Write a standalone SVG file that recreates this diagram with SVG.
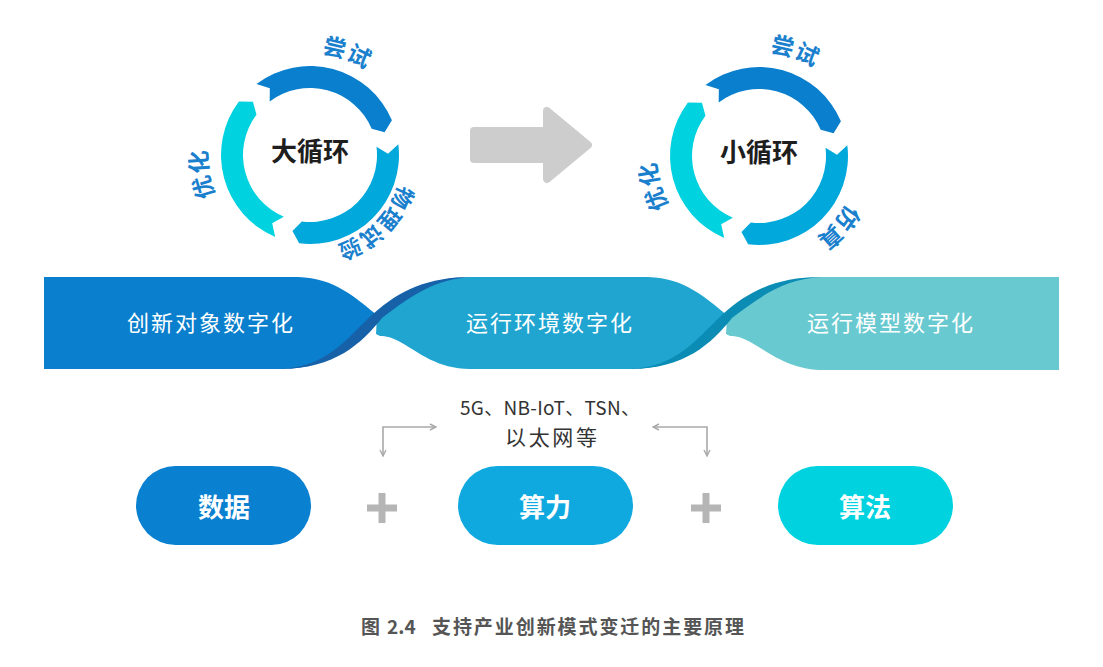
<svg xmlns="http://www.w3.org/2000/svg" width="1103" height="667" viewBox="0 0 1103 667">
<style>
text{font-family:"Noto Sans CJK SC","Noto Sans",sans-serif}
.ctr{font-size:26px;font-weight:700;fill:#1e1e1e;text-anchor:middle}
.lbl{font-size:23px;font-weight:700;fill:#1a80cd;letter-spacing:1px}
.band{font-size:22px;fill:#ffffff;text-anchor:middle}
.pill{font-size:26px;font-weight:700;fill:#ffffff;text-anchor:middle}
.a1{fill:#0a7fcd}.a2{fill:#00a8dc}.a3{fill:#00d2df}
.conn{fill:none;stroke:#a9a9a9;stroke-width:1.6}
.plus{stroke:#b5b5b5;stroke-width:7}
.cap{font-size:19px;font-weight:700;fill:#555555}
</style>
<defs>
<marker id="ah" viewBox="0 0 8 8" refX="7" refY="4" markerWidth="8" markerHeight="8" markerUnits="userSpaceOnUse" orient="auto-start-reverse">
<path d="M1,1 L7,4 L1,7" fill="none" stroke="#a9a9a9" stroke-width="1.4"/>
</marker>
<g id="ring">
<path class="a1" d="M256.44,83.92 A89,89 0 0 1 391.92,120.23 L384.59,132.19 L371.67,128.82 A67,67 0 0 0 269.68,101.49 L269.83,88.14 Z"/>
<path class="a2" d="M398.33,144.15 A89,89 0 0 1 299.15,243.33 L292.45,231.00 L301.83,221.50 A67,67 0 0 0 376.50,146.83 L387.99,153.64 Z"/>
<path class="a3" d="M275.23,236.92 A89,89 0 0 1 238.92,101.44 L252.95,101.80 L256.49,114.68 A67,67 0 0 0 283.82,216.67 L272.19,223.22 Z"/>
</g>
<path id="pL1" d="M275.11,250.85 A102,102 0 1 1 344.89,59.15 A102,102 0 1 1 275.11,250.85"/>
<path id="pL2" d="M411.44,137.11 A103,103 0 1 1 208.56,172.89 A103,103 0 1 1 411.44,137.11"/>
<path id="pL3" d="M244.70,87.38 A94,94 0 1 1 375.30,222.62 A94,94 0 1 1 244.70,87.38"/>
<path id="pR1" d="M725.14,254.33 A104,104 0 1 1 792.86,57.67 A104,104 0 1 1 725.14,254.33"/>
<path id="pR2" d="M858.01,127.61 A103,103 0 1 1 659.99,184.39 A103,103 0 1 1 858.01,127.61"/>
<path id="pR3" d="M684.69,89.09 A100,100 0 1 1 833.31,222.91 A100,100 0 1 1 684.69,89.09"/>
</defs>
<rect width="1103" height="667" fill="#ffffff"/>

<g id="big-cycle">
<use href="#ring"/>
<text class="ctr" x="310" y="161">大循环</text>
<text class="lbl"><textPath href="#pL1" startOffset="50%" text-anchor="middle">尝试</textPath></text>
<text class="lbl"><textPath href="#pL2" startOffset="50%" text-anchor="middle">优化</textPath></text>
<text class="lbl" style="font-size:22px"><textPath href="#pL3" startOffset="50%" text-anchor="middle">物理试验</textPath></text>
</g>

<g id="small-cycle">
<use href="#ring" transform="translate(449,1)"/>
<text class="ctr" x="759" y="162">小循环</text>
<text class="lbl"><textPath href="#pR1" startOffset="50%" text-anchor="middle">尝试</textPath></text>
<text class="lbl"><textPath href="#pR2" startOffset="50%" text-anchor="middle">优化</textPath></text>
<text class="lbl"><textPath href="#pR3" startOffset="50%" text-anchor="middle">仿真</textPath></text>
</g>

<g id="transition-arrow">
<path d="M474,131 H547 V111 L588,145 L547,179 V159 H474 Z" fill="#cdcdcd" stroke="#cdcdcd" stroke-width="8" stroke-linejoin="round"/>
</g>

<g id="ribbon">
<path fill="#1fa5d0" d="M472,277 H648 C685,278 706,298 728,316 C706,341 682,368 633,369 H470 C438,369 418,352 402,343 C392,337 386,336 380,336 L376,334 L377,316 C405,292 430,277 472,277 Z"/>
<path fill="#69c9d0" d="M822,277 H1059 V370 H820 C788,369 768,352 752,343 C742,337 736,336 730,336 L726,334 L727,316 C755,292 780,277 822,277 Z"/>
<path fill="#0a7fcd" d="M44,277 H298 C335,278 356,298 378,316 C356,341 332,368 283,369 H44 Z"/>
<path fill="#1761a8" d="M280,369 C328,367 347,338 373,314 C400,290 428,277 472,277 C435,279 412,295 382,318 C362,343 335,369 280,369 Z"/>
<path fill="#0a8cb5" d="M630,369 C678,367 697,338 723,314 C750,290 778,277 822,277 C785,279 762,295 732,318 C712,343 685,369 630,369 Z"/>
<text class="band" x="210" y="331" textLength="166">创新对象数字化</text>
<text class="band" x="549" y="331" textLength="166">运行环境数字化</text>
<text class="band" x="890" y="331" textLength="166">运行模型数字化</text>
</g>

<g id="network-label">
<text x="550" y="415" font-size="19" fill="#333333" text-anchor="middle" textLength="180">5G、NB-IoT、TSN、</text>
<text x="551" y="445" font-size="21" fill="#333333" text-anchor="middle" textLength="92">以太网等</text>
</g>

<g id="connectors">
<polyline class="conn" points="383,456 383,427 436,427" marker-start="url(#ah)" marker-end="url(#ah)"/>
<polyline class="conn" points="653,427 707,427 707,456" marker-start="url(#ah)" marker-end="url(#ah)"/>
</g>

<g id="node-data">
<rect x="136" y="466" width="175" height="79" rx="39.5" fill="#0a80d0"/>
<text class="pill" x="224" y="517">数据</text>
</g>
<g id="plus-1">
<path class="plus" d="M367,508 H397 M382,493 V523"/>
</g>
<g id="node-compute">
<rect x="458" y="466" width="175" height="79" rx="39.5" fill="#10a9df"/>
<text class="pill" x="545" y="517">算力</text>
</g>
<g id="plus-2">
<path class="plus" d="M691,508 H721 M706,493 V523"/>
</g>
<g id="node-algo">
<rect x="778" y="466" width="175" height="79" rx="39.5" fill="#00d3df"/>
<text class="pill" x="865" y="517">算法</text>
</g>

<g id="caption">
<text class="cap" x="361" y="634">图</text>
<text class="cap" x="387" y="634">2.4</text>
<text class="cap" x="432" y="634" textLength="312" lengthAdjust="spacing">支持产业创新模式变迁的主要原理</text>
</g>
</svg>
